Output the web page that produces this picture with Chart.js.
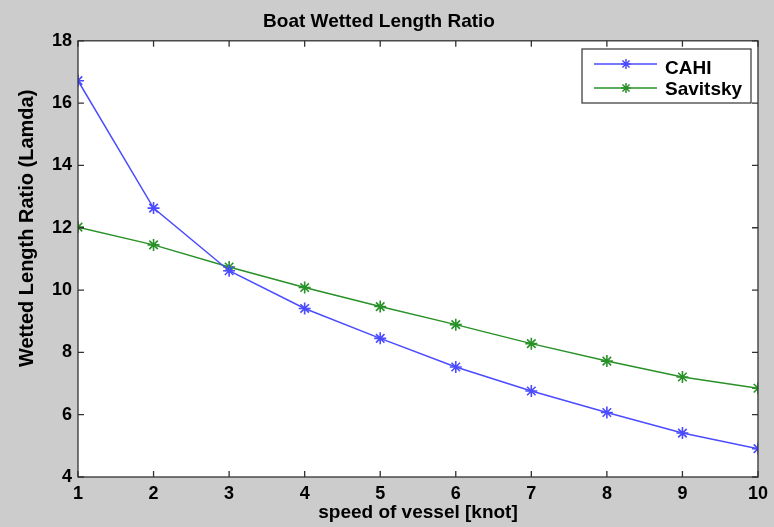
<!DOCTYPE html>
<html>
<head>
<meta charset="utf-8">
<script src="https://cdn.jsdelivr.net/npm/chart.js@4.4.1/dist/chart.umd.min.js"></script>
<style>
  html, body { margin: 0; padding: 0; background: #cccccc; }
  #wrap { width: 774px; height: 527px; }
</style>
</head>
<body>
<div id="wrap"><canvas id="c" width="774" height="527"></canvas></div>
<script>
const speeds = [1, 2, 3, 4, 5, 6, 7, 8, 9, 10];
const cahi = [16.72, 12.63, 10.62, 9.41, 8.45, 7.53, 6.76, 6.07, 5.41, 4.91];
const savitsky = [12.02, 11.45, 10.74, 10.08, 9.47, 8.89, 8.28, 7.72, 7.21, 6.85];
const xTicks = [1, 2, 3, 4, 5, 6, 7, 8, 9, 10];
const yTicks = [4, 6, 8, 10, 12, 14, 16, 18];

const FONT = 'Liberation Sans, Arial, sans-serif';

const bgPlugin = {
  id: 'bg',
  beforeDraw(chart) {
    const { ctx, chartArea: a } = chart;
    ctx.save();
    ctx.fillStyle = '#cccccc';
    ctx.fillRect(0, 0, chart.width, chart.height);
    ctx.fillStyle = '#ffffff';
    ctx.fillRect(a.left, a.top, a.right - a.left, a.bottom - a.top);
    ctx.restore();
  },
  afterDatasetsDraw(chart) {
    const { ctx, chartArea: a, scales } = chart;
    ctx.save();
    ctx.strokeStyle = '#333333';
    ctx.lineWidth = 1.3;
    ctx.strokeRect(a.left, a.top, a.right - a.left, a.bottom - a.top);
    const L = 6;
    ctx.beginPath();
    scales.x.ticks.forEach(t => {
      const px = scales.x.getPixelForValue(t.value);
      ctx.moveTo(px, a.bottom); ctx.lineTo(px, a.bottom - L);
      ctx.moveTo(px, a.top); ctx.lineTo(px, a.top + L);
    });
    scales.y.ticks.forEach(t => {
      const py = scales.y.getPixelForValue(t.value);
      ctx.moveTo(a.left, py); ctx.lineTo(a.left + L, py);
      ctx.moveTo(a.right, py); ctx.lineTo(a.right - L, py);
    });
    ctx.stroke();

    // legend box inside plot (top-right)
    const bx = 582, by = 49, bw = 169, bh = 54;
    ctx.fillStyle = '#ffffff';
    ctx.fillRect(bx, by, bw, bh);
    ctx.strokeStyle = '#333333';
    ctx.lineWidth = 1.2;
    ctx.strokeRect(bx, by, bw, bh);
    chart.data.datasets.forEach((ds, i) => {
      const ly = by + 15 + i * 24;
      const ty = by + 20 + i * 21;
      ctx.strokeStyle = ds.borderColor;
      ctx.fillStyle = ds.borderColor;
      ctx.lineWidth = 1.5;
      ctx.beginPath();
      ctx.moveTo(bx + 12, ly); ctx.lineTo(bx + 75, ly);
      ctx.stroke();
      Chart.helpers.drawPoint(ctx, { pointStyle: 'star', radius: 5, borderWidth: 1.5 }, bx + 44, ly);
      ctx.fillStyle = '#000000';
      ctx.font = 'bold 19px ' + FONT;
      ctx.textBaseline = 'middle';
      ctx.textAlign = 'left';
      ctx.fillText(ds.label, bx + 83, ty);
    });
    ctx.restore();
  }
};

new Chart(document.getElementById('c'), {
  type: 'line',
  data: {
    labels: speeds,
    datasets: [
      {
        label: 'CAHI',
        data: speeds.map((s, i) => ({ x: s, y: cahi[i] })),
        borderColor: 'rgb(75,75,255)',
        backgroundColor: 'rgb(75,75,255)',
        borderWidth: 1.5,
        pointStyle: 'star',
        pointRadius: 6,
        pointBorderWidth: 1.6,
        tension: 0
      },
      {
        label: 'Savitsky',
        data: speeds.map((s, i) => ({ x: s, y: savitsky[i] })),
        borderColor: 'rgb(40,145,40)',
        backgroundColor: 'rgb(40,145,40)',
        borderWidth: 1.5,
        pointStyle: 'star',
        pointRadius: 6,
        pointBorderWidth: 1.6,
        tension: 0
      }
    ]
  },
  options: {
    responsive: false,
    animation: false,
    devicePixelRatio: 1,
    layout: { padding: { top: 0, right: 16, bottom: 0, left: 0 } },
    plugins: {
      legend: { display: false },
      tooltip: { enabled: false },
      title: {
        display: true,
        text: 'Boat Wetted Length Ratio',
        color: '#000000',
        font: { family: FONT, size: 19, weight: 'bold' },
        padding: { top: 10, bottom: 8 }
      }
    },
    scales: {
      x: {
        type: 'linear',
        min: 1, max: 10,
        afterBuildTicks(scale) { scale.ticks = xTicks.map(v => ({ value: v })); },
        afterFit(scale) { scale.height = 50; },
        grid: { display: false, drawTicks: false },
        border: { display: false },
        ticks: {
          color: '#000000',
          font: { family: FONT, size: 18, weight: 'bold' },
          padding: 6,
          maxRotation: 0,
          autoSkip: false
        },
        title: {
          display: true,
          text: 'speed of vessel [knot]',
          color: '#000000',
          font: { family: FONT, size: 19, weight: 'bold' },
          padding: { top: 2, bottom: 3 }
        }
      },
      y: {
        type: 'linear',
        min: 4, max: 18,
        afterBuildTicks(scale) { scale.ticks = yTicks.map(v => ({ value: v })); },
        afterFit(scale) { scale.width = 78; },
        grid: { display: false, drawTicks: false },
        border: { display: false },
        ticks: {
          color: '#000000',
          font: { family: FONT, size: 18, weight: 'bold' },
          padding: 6,
          autoSkip: false
        },
        title: {
          display: true,
          text: '           Wetted Length Ratio (Lamda)',
          color: '#000000',
          font: { family: FONT, size: 20, weight: 'bold' },
          padding: { top: 15, bottom: 0 }
        }
      }
    }
  },
  plugins: [bgPlugin]
});
</script>
</body>
</html>
